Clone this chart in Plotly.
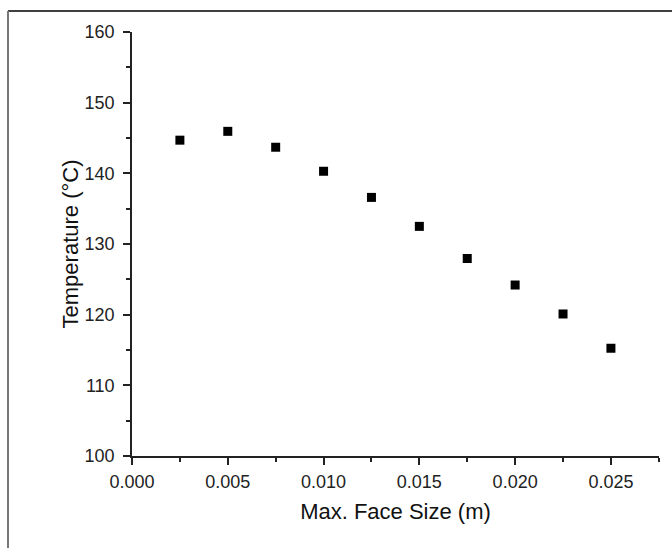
import plotly.graph_objects as go

face_size = [0.0025, 0.005, 0.0075, 0.010, 0.0125, 0.015, 0.0175, 0.020, 0.0225, 0.025]
temperature = [144.7, 145.95, 143.7, 140.3, 136.6, 132.5, 127.95, 124.2, 120.1, 115.25]

W, H = 672, 548
L, R, T, B = 132, 13, 32, 92
pw, ph = W - L - R, H - T - B

def px_x(px):
    return (px - L) / pw

def px_y(py):
    return (H - B - py) / ph

fig = go.Figure()
fig.add_trace(go.Scatter(
    x=face_size, y=temperature, mode="markers",
    marker=dict(symbol="square", size=9, color="black", line=dict(width=0)),
    showlegend=False,
))

FONT = "Liberation Sans, Arial, sans-serif"

fig.update_layout(
    width=W, height=H,
    margin=dict(l=L, r=R, t=T, b=B),
    paper_bgcolor="white", plot_bgcolor="white",
    font=dict(family=FONT, size=18, color="#222"),
)
fig.update_xaxes(
    showline=True, linecolor="#222", linewidth=1.5, mirror=False,
    ticks="outside", ticklen=7, tickwidth=1.5, tickcolor="#222",
    showgrid=False, zeroline=False,
    tickfont_size=18, tickfont_family=FONT, tickfont_color="#222",
    range=[0, 0.02751], dtick=0.005, tick0=0, tickformat=".3f",
    ticklabelstandoff=2,
    minor=dict(dtick=0.0025, ticks="outside", ticklen=4, tickwidth=1.5, tickcolor="#222"),
    title=dict(text="Max. Face Size (m)", standoff=12,
               font=dict(family=FONT, size=22, color="#111")),
)
fig.update_yaxes(
    showline=True, linecolor="#222", linewidth=1.5, mirror=False,
    ticks="outside", ticklen=7, tickwidth=1.5, tickcolor="#222",
    showgrid=False, zeroline=False,
    tickfont_size=18, tickfont_family=FONT, tickfont_color="#222",
    range=[100, 160.01], dtick=10, tick0=100,
    ticklabelstandoff=5,
    minor=dict(dtick=5, ticks="outside", ticklen=4, tickwidth=1.5, tickcolor="#222"),
    title=dict(text="Temperature (°C)", standoff=0,
               font=dict(family=FONT, size=22, color="#111")),
)
fig.update_layout(shapes=[
    dict(type="line", xref="paper", yref="paper",
         x0=px_x(8), x1=px_x(W + 2), y0=px_y(11), y1=px_y(11),
         line=dict(color="black", width=1.5)),
    dict(type="line", xref="paper", yref="paper",
         x0=px_x(8), x1=px_x(8), y0=px_y(11), y1=px_y(H + 2),
         line=dict(color="#777", width=2)),
])

fig.write_html("out.html")
